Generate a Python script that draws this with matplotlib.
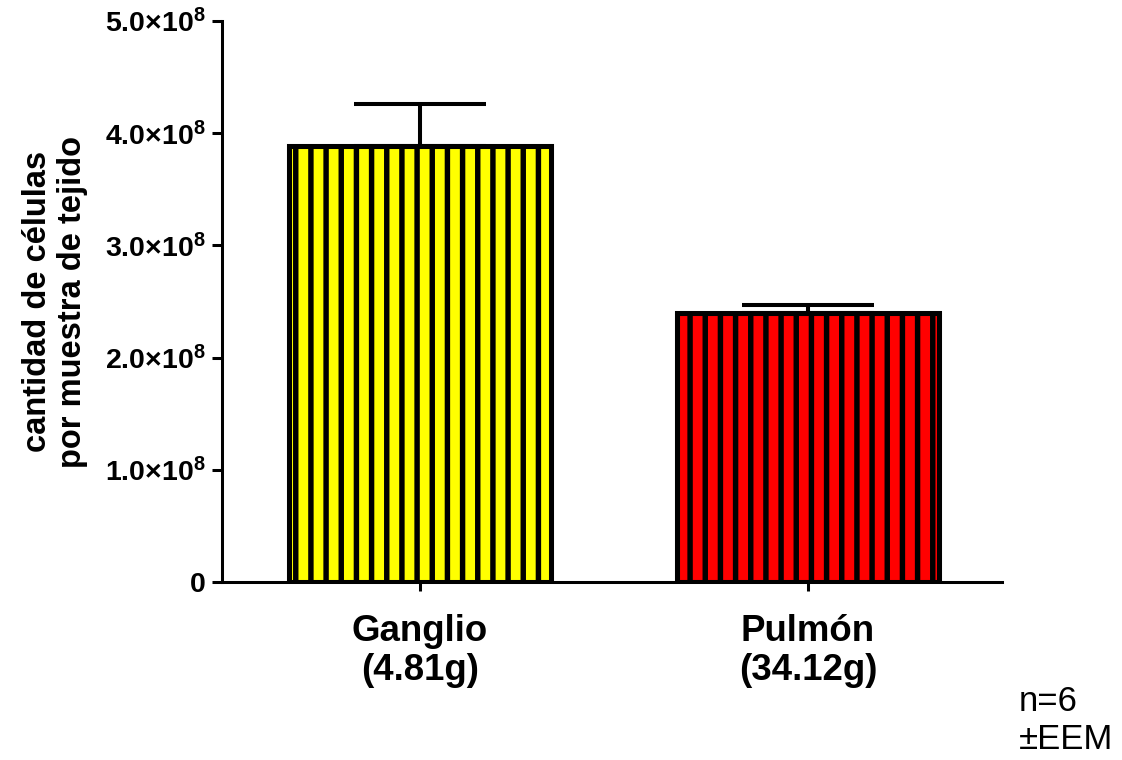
import matplotlib
matplotlib.use("Agg")
import matplotlib.pyplot as plt
from matplotlib.ticker import FuncFormatter

categories = ["Ganglio\n(4.81g)", "Pulmón\n(34.12g)"]
means = [3.89e8, 2.40e8]
sem_upper = [0.37e8, 0.07e8]
colors = ["#FFFF00", "#FF0000"]
yticks = [0, 1e8, 2e8, 3e8, 4e8, 5e8]
ylabel = "cantidad de células\npor muestra de tejido"
note = "n=6\n±EEM"

DPI = 91
plt.rcParams["font.family"] = ["Liberation Sans", "DejaVu Sans"]
plt.rcParams["mathtext.fontset"] = "custom"
plt.rcParams["mathtext.rm"] = "Liberation Sans"
plt.rcParams["mathtext.bf"] = "Liberation Sans:bold"
plt.rcParams["hatch.linewidth"] = 4.3
plt.rcParams["hatch.color"] = "black"

fig = plt.figure(figsize=(1122 / DPI, 760 / DPI), dpi=DPI)
ax = fig.add_axes([222 / 1122, 1 - 582 / 760, (1002 - 222) / 1122, (582 - 21) / 760])

x = list(range(len(categories)))
ax.errorbar(x, means, yerr=[[0] * len(means), sem_upper], fmt="none",
            ecolor="black", elinewidth=3.2, capsize=52, capthick=3.2, zorder=1)
bars = ax.bar(x, means, width=0.675, color=colors, edgecolor="black",
              linewidth=4, hatch="|", zorder=2)

ax.set_xlim(-0.51, 1.5)
ax.set_ylim(0, 5e8)
ax.set_yticks(yticks)


def fmt(v, pos):
    if v == 0:
        return r"$\mathbf{0}$"
    m = v / 1e8
    return r"$\mathbf{%.1f{\times}10^{8}}$" % m


ax.yaxis.set_major_formatter(FuncFormatter(fmt))
ax.set_xticks(x)
ax.set_xticklabels(categories, fontsize=29, fontweight="bold", linespacing=1.15)

for s in ["top", "right"]:
    ax.spines[s].set_visible(False)
for s in ["left", "bottom"]:
    ax.spines[s].set_linewidth(2.4)

ax.tick_params(axis="y", length=8, width=2.4, labelsize=22.5, pad=5)
ax.tick_params(axis="x", length=7, width=2.4, pad=18)

ax.set_ylabel(ylabel, fontsize=25.8, fontweight="bold", labelpad=13, linespacing=1.2)

fig.text(1019 / 1122, 4 / 760, note, fontsize=27.5, ha="left", va="bottom", linespacing=1.2)

fig.savefig("out.png", dpi=DPI)
